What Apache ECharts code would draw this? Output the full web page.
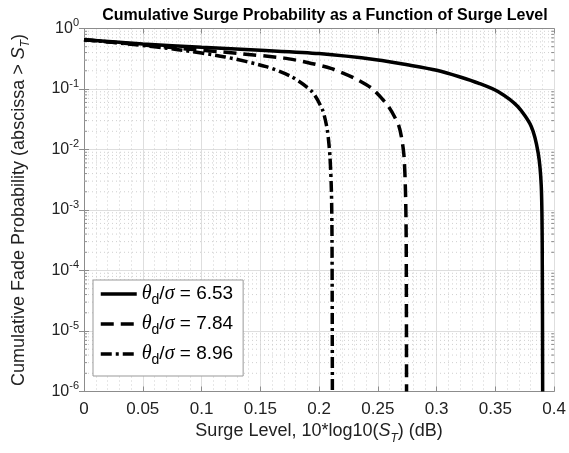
<!DOCTYPE html>
<html>
<head>
<meta charset="utf-8">
<script src="https://cdn.jsdelivr.net/npm/echarts@6/dist/echarts.min.js"></script>
<style>
  html, body { margin: 0; padding: 0; background: #fff; }
  #chart { width: 569px; height: 453px; }
</style>
</head>
<body>
<div id="chart"></div>
<script>
// Surge level (dB) and cumulative probability for each theta_d / sigma ratio
const ratioLabels = ['6.53', '7.84', '8.96'];

const surgeA = [0, 0.05, 0.10, 0.15, 0.20, 0.25, 0.275, 0.30, 0.32, 0.336, 0.3525, 0.369, 0.3805, 0.3864, 0.389, 0.3898, 0.3902];
const probA  = [0.653, 0.556, 0.490, 0.437, 0.385, 0.302, 0.251, 0.204, 0.158, 0.124, 0.0902, 0.0513, 0.0240, 0.00871, 0.00251, 0.000316, 1e-6];

const surgeB = [0, 0.05, 0.08, 0.13, 0.17, 0.19, 0.21, 0.23, 0.245, 0.259, 0.268, 0.272, 0.2735, 0.2741, 0.2744];
const probB  = [0.653, 0.537, 0.473, 0.389, 0.324, 0.275, 0.219, 0.151, 0.102, 0.0513, 0.0240, 0.00871, 0.0020, 0.000316, 1e-6];

const surgeC = [0, 0.04, 0.08, 0.12, 0.155, 0.177, 0.194, 0.203, 0.207, 0.2092, 0.2105, 0.211, 0.2113];
const probC  = [0.653, 0.550, 0.447, 0.339, 0.234, 0.158, 0.0902, 0.0447, 0.0209, 0.00794, 0.0020, 0.000316, 1e-6];

// Minor decade values for the log-axis minor grid (2..9 x 10^k)
const minorY = [];
for (let k = -6; k < 0; k++) {
  for (let m = 2; m <= 9; m++) minorY.push(+(m * Math.pow(10, k)).toPrecision(3));
}

const pairs = (xs, ys) => xs.map((x, i) => [x, ys[i]]);

const FONT = '"Liberation Sans", Arial, Helvetica, sans-serif';
const SERIF = '"Liberation Serif", "DejaVu Serif", serif';
const AXIS_COLOR = '#8c8c8c';
const TEXT_COLOR = '#222';

function lineSeries(name, data, type) {
  return {
    type: 'line',
    name: name,
    data: data,
    symbol: 'none',
    showSymbol: false,
    smooth: 0.25,
    clip: true,
    z: 5,
    lineStyle: { color: '#000', width: 3.5, type: type, cap: 'butt' },
    itemStyle: { color: '#000' }
  };
}

function minorGridItem(params, api) {
  const cs = params.coordSys;
  const y = api.coord([0, api.value(1)])[1];
  return {
    type: 'group',
    children: [
      { type: 'line', shape: { x1: cs.x, y1: y, x2: cs.x + cs.width, y2: y },
        style: { stroke: '#cfcfcf', lineWidth: 1, lineDash: [1, 3] } },
      { type: 'line', shape: { x1: cs.x, y1: y, x2: cs.x + 3, y2: y },
        style: { stroke: AXIS_COLOR, lineWidth: 1 } },
      { type: 'line', shape: { x1: cs.x + cs.width - 3, y1: y, x2: cs.x + cs.width, y2: y },
        style: { stroke: AXIS_COLOR, lineWidth: 1 } }
    ]
  };
}

const supRich = {
  b: { fontSize: 16, lineHeight: 22, fontFamily: FONT, color: TEXT_COLOR },
  e: { fontSize: 11, lineHeight: 11, verticalAlign: 'top', fontFamily: FONT, color: TEXT_COLOR }
};

const nameRich = {
  t: { fontFamily: FONT, fontSize: 18, lineHeight: 26, color: TEXT_COLOR },
  i: { fontFamily: FONT, fontStyle: 'italic', fontSize: 18, lineHeight: 26, color: TEXT_COLOR },
  u: { fontFamily: FONT, fontStyle: 'italic', fontSize: 12, lineHeight: 12, verticalAlign: 'bottom', color: TEXT_COLOR }
};

const chart = echarts.init(document.getElementById('chart'), null, { renderer: 'canvas' });

chart.setOption({
  animation: false,
  backgroundColor: '#fff',
  title: {
    text: 'Cumulative Surge Probability as a Function of Surge Level',
    left: 320,
    textAlign: 'center',
    top: 3,
    textStyle: { fontFamily: FONT, fontWeight: 'bold', fontSize: 16, color: '#000' }
  },
  grid: { left: 84, right: 13, top: 28.5, bottom: 61.5, containLabel: false },
  legend: {
    data: ratioLabels,
    orient: 'vertical',
    left: 93,
    top: 280,
    padding: [4, 10, 9, 6],
    itemGap: 7,
    itemWidth: 36,
    itemHeight: 2,
    backgroundColor: '#fff',
    borderColor: '#999',
    borderWidth: 1,
    borderRadius: 0,
    itemStyle: { color: 'transparent', borderWidth: 0, opacity: 0 },
    lineStyle: { width: 3.5, color: '#000' },
    formatter: (name) => '{g|θ}{s|d}{n|/}{g|σ}{n| = ' + name + '}',
    textStyle: {
      fontFamily: FONT,
      fontSize: 19,
      color: '#000',
      rich: {
        g: { fontFamily: SERIF, fontStyle: 'italic', fontSize: 20, lineHeight: 26, color: '#000' },
        s: { fontFamily: FONT, fontSize: 14, lineHeight: 14, verticalAlign: 'bottom', color: '#000' },
        n: { fontFamily: FONT, fontSize: 19, lineHeight: 26, color: '#000' }
      }
    }
  },
  xAxis: [
    {
      type: 'value',
      min: 0, max: 0.4, interval: 0.05,
      position: 'bottom',
      name: '{t|Surge Level, 10*log10(}{i|S}{u|T}{t|) (dB)}',
      nameLocation: 'middle',
      nameGap: 25,
      nameTextStyle: { rich: nameRich },
      axisLine: { show: true, lineStyle: { color: AXIS_COLOR, width: 1 } },
      axisTick: { show: true, inside: true, length: 5, lineStyle: { color: AXIS_COLOR } },
      axisLabel: {
        fontFamily: FONT, fontSize: 17, color: TEXT_COLOR, margin: 9,
        formatter: (v) => String(+v.toFixed(2))
      },
      splitLine: { show: true, lineStyle: { color: '#dedede', width: 1 } },
      minorTick: { show: false, splitNumber: 5 },
      minorSplitLine: { show: true, lineStyle: { color: '#cfcfcf', width: 1, type: [1, 3] } }
    },
    {
      type: 'value',
      min: 0, max: 0.4, interval: 0.05,
      position: 'top',
      axisLine: { show: true, lineStyle: { color: AXIS_COLOR, width: 1 } },
      axisTick: { show: true, inside: true, length: 5, lineStyle: { color: AXIS_COLOR } },
      axisLabel: { show: false },
      splitLine: { show: false }
    }
  ],
  yAxis: [
    {
      type: 'log',
      logBase: 10,
      min: 1e-6, max: 1,
      position: 'left',
      name: '{t|Cumulative Fade Probability (abscissa > }{i|S}{u|T}{t|)}',
      nameLocation: 'middle',
      nameRotate: 90,
      nameGap: 52,
      nameTextStyle: { rich: nameRich },
      axisLine: { show: true, lineStyle: { color: AXIS_COLOR, width: 1 } },
      axisTick: { show: true, inside: true, length: 5, lineStyle: { color: AXIS_COLOR } },
      axisLabel: {
        margin: 5,
        formatter: (v) => '{b|10}{e|' + Math.round(Math.log10(v)) + '}',
        rich: supRich
      },
      splitLine: { show: true, lineStyle: { color: '#dedede', width: 1 } }
    },
    {
      type: 'log',
      logBase: 10,
      min: 1e-6, max: 1,
      position: 'right',
      axisLine: { show: true, lineStyle: { color: AXIS_COLOR, width: 1 } },
      axisTick: { show: true, inside: true, length: 5, lineStyle: { color: AXIS_COLOR } },
      axisLabel: { show: false },
      splitLine: { show: false }
    }
  ],
  series: [
    {
      type: 'custom',
      name: 'minor-grid',
      silent: true,
      z: 1,
      xAxisIndex: 0,
      yAxisIndex: 0,
      data: minorY.map((v) => [0, v]),
      encode: { x: 0, y: 1 },
      renderItem: minorGridItem
    },
    lineSeries(ratioLabels[0], pairs(surgeA, probA), 'solid'),
    lineSeries(ratioLabels[1], pairs(surgeB, probB), [13, 7]),
    lineSeries(ratioLabels[2], pairs(surgeC, probC), [11, 4, 3, 4])
  ]
});
</script>
</body>
</html>
